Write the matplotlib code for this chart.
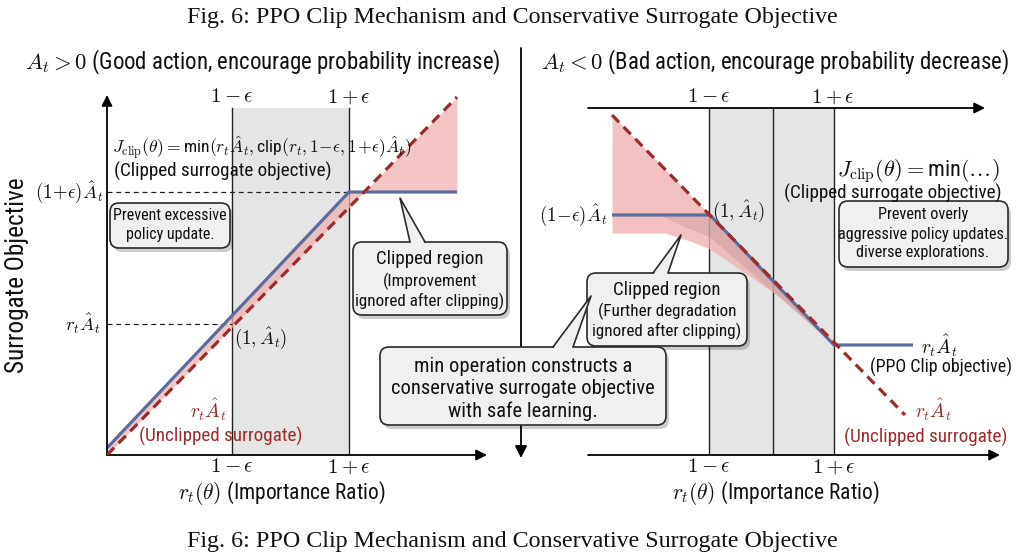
import numpy as np
import matplotlib.pyplot as plt
from matplotlib.patches import FancyBboxPatch, Polygon

plt.rcParams['mathtext.fontset'] = 'cm'
plt.rcParams['font.family'] = ['Roboto Condensed', 'Liberation Sans Narrow', 'Roboto', 'DejaVu Sans']

# ---------------- data (schematic units: r ratio / surrogate objective) ----------------
# left panel: A_t > 0
eps_L = [1.25, 2.42]                      # 1-eps, 1+eps
band_top_L = 3.47
r_unclip_L = [0.0, 3.5]
j_unclip_L = [0.0, 3.58]
r_clip_L = [0.0, 2.42, 3.5]
j_clip_L = [0.07, 2.63, 2.63]
ref_levels_L = [2.63, 1.31]               # (1+eps)A, r_t A
ref_ends_L = [2.42, 1.25]

# right panel: A_t < 0
eps_R = [1.21, 1.85, 2.46]
band_top_R = 3.47
r_unclip_R = [0.24, 3.17]
j_unclip_R = [3.40, 0.40]
r_clip_R = [0.24, 1.22, 2.46, 3.25]
j_clip_R = [2.40, 2.40, 1.10, 1.10]
r_shade_R = [0.24, 0.77, 1.02, 1.22, 1.92, 2.46]
j_shade_R = [2.22, 2.22, 2.14, 2.06, 1.58, 1.10]
r_dark_R = [0.75, 1.0, 1.22, 2.46]
j_dark_R = [2.38, 2.27, 2.18, 1.10]

RED = '#9e2b2b'
BLUE = '#5a6d9c'
PINK = '#f0b2b2'
GRAY = '#e5e5e5'

fig = plt.figure(figsize=(10.24, 5.59), dpi=100)
W, H = 1024, 559


def panel(x0, y0, w, h):
    # pixel box (left, bottom-from-top) -> axes, 1 data unit = 100 px
    ax = fig.add_axes([x0 / W, (H - y0) / H, w / W, h / H])
    ax.set_xlim(0, w / 100)
    ax.set_ylim(0, h / 100)
    ax.axis('off')
    return ax


def arrow(ax, p0, p1, lw=1.3):
    ax.annotate('', xy=p1, xytext=p0, annotation_clip=False,
                arrowprops=dict(arrowstyle='-|>', color='black', lw=lw,
                                mutation_scale=16, shrinkA=0, shrinkB=0))


# ---------------- left panel ----------------
axL = panel(107, 455, 390, 362)
axL.fill_between(eps_L, 0, band_top_L, color=GRAY, lw=0, zorder=0)
for x in eps_L:
    axL.plot([x, x], [0, band_top_L], color='#222222', lw=1.0, zorder=1)
xs = np.linspace(r_unclip_L[0], r_unclip_L[-1], 400)
axL.fill_between(xs, np.interp(xs, r_unclip_L, j_unclip_L), np.interp(xs, r_clip_L, j_clip_L),
                 color=PINK, alpha=0.75, lw=0, zorder=2)
for lev, end in zip(ref_levels_L, ref_ends_L):
    axL.plot([0, end], [lev, lev], color='#222222', lw=0.9, ls=(0, (4, 3)), zorder=2)
axL.plot(r_clip_L, j_clip_L, color=BLUE, lw=2.3, zorder=3, solid_capstyle='butt')
axL.plot(r_unclip_L, j_unclip_L, color=RED, lw=2.3, ls=(0, (3.2, 2)), zorder=4)
arrow(axL, (0, 0), (3.80, 0))
arrow(axL, (0, 0), (0, 3.60))

# ---------------- right panel ----------------
axR = panel(588, 455, 425, 350)
axR.fill_between([eps_R[0], eps_R[-1]], 0, band_top_R, color=GRAY, lw=0, zorder=0)
for x in eps_R:
    axR.plot([x, x], [0, band_top_R], color='#222222', lw=1.0, zorder=1)
up = np.maximum(np.interp(r_shade_R, r_unclip_R, j_unclip_R), np.interp(r_shade_R, r_clip_R, j_clip_R))
axR.fill_between(r_shade_R, j_shade_R, up, color=PINK, alpha=0.8, lw=0, zorder=2)
axR.fill_between(r_dark_R, j_dark_R, np.interp(r_dark_R, r_clip_R, j_clip_R),
                 color='#a07a7a', alpha=0.25, lw=0, zorder=2)
axR.plot(r_clip_R, j_clip_R, color=BLUE, lw=2.3, zorder=3, solid_capstyle='butt')
axR.plot(r_unclip_R, j_unclip_R, color=RED, lw=2.3, ls=(0, (3.2, 2)), zorder=4)
arrow(axR, (0, band_top_R), (3.97, band_top_R))
arrow(axR, (0, 0), (4.12, 0))

# ---------------- overlay for text / callouts (pixel coords) ----------------
ov = fig.add_axes([0, 0, 1, 1], zorder=10)
ov.set_xlim(0, W)
ov.set_ylim(H, 0)
ov.axis('off')
ov.patch.set_alpha(0)


def t(x, y, s, size=13, ha='center', color='#111111', **kw):
    ov.text(x, y, s, fontsize=size, ha=ha, va='center', color=color, zorder=20, **kw)


def callout(x0, y0, x1, y1, tail=None):
    w, h = x1 - x0, y1 - y0
    style = 'round,pad=0,rounding_size=9'
    ov.add_patch(FancyBboxPatch((x0 + 3, y0 + 4), w, h, boxstyle=style,
                                fc='black', ec='none', alpha=0.2, zorder=11))
    ov.add_patch(FancyBboxPatch((x0, y0), w, h, boxstyle=style,
                                fc='#f0f0f0', ec='#2a2a2a', lw=1.2, zorder=12))
    if tail:
        bx0, bx1, tip = tail
        ov.add_patch(Polygon([(bx0, y0 + 2), tip, (bx1, y0 + 2)], closed=True,
                             fc='#f0f0f0', ec='none', zorder=13))
        ov.plot([bx0, tip[0], bx1], [y0, tip[1], y0], color='#2a2a2a', lw=1.2, zorder=13)


# divider with down arrow
ov.annotate('', xy=(521, 458), xytext=(521, 48),
            arrowprops=dict(arrowstyle='-|>', color='black', lw=1.3, mutation_scale=18,
                            shrinkA=0, shrinkB=0), zorder=5)

serif = ['Liberation Serif', 'DejaVu Serif']
t(512, 18, 'Fig. 6: PPO Clip Mechanism and Conservative Surrogate Objective', 17.3, family=serif)
t(512, 541, 'Fig. 6: PPO Clip Mechanism and Conservative Surrogate Objective', 17.3, family=serif)

# titles
t(263, 62, r'$A_t > 0$ (Good action, encourage probability increase)', 16.4)
t(775, 62, r'$A_t < 0$ (Bad action, encourage probability decrease)', 16.4)

# left panel labels
t(17, 275, 'Surrogate Objective', 18.2, rotation=90)
t(232, 97, r'$1-\epsilon$', 15)
t(349, 97, r'$1+\epsilon$', 15)
t(232, 467, r'$1-\epsilon$', 15)
t(349, 467, r'$1+\epsilon$', 15)
t(103, 192, r'$(1\!+\!\epsilon)\hat{A}_t$', 13.5, ha='right')
t(101, 324, r'$r_t\hat{A}_t$', 13.5, ha='right')
t(112, 148, r'$J_{\rm clip}(\theta) = $min$(r_t\hat{A}_t,$clip$(r_t, 1\!-\!\epsilon, 1\!+\!\epsilon)\hat{A}_t)$',
  12.6, ha='left')
t(114, 171, '(Clipped surrogate objective)', 13.8, ha='left')
t(234, 338, r'$(1, \hat{A}_t)$', 13.5, ha='left')
t(208, 410, r'$r_t\hat{A}_t$', 14, color=RED)
t(221, 436, '(Unclipped surrogate)', 13.8, color=RED)
t(282, 493, r'$r_t(\theta)$ (Importance Ratio)', 15.5)

callout(110, 203, 230, 248)
t(170, 216, 'Prevent excessive', 11.5)
t(170, 235, 'policy update.', 11.5)

callout(353, 242, 507, 315, tail=(410, 425, (400, 198)))
t(430, 259, 'Clipped region', 13.6)
t(430, 281, '(Improvement', 12.3)
t(430, 301, 'ignored after clipping)', 12.3)

# right panel labels
t(709, 97, r'$1-\epsilon$', 15)
t(833, 97, r'$1+\epsilon$', 15)
t(709, 467, r'$1-\epsilon$', 15)
t(834, 467, r'$1+\epsilon$', 15)
t(607, 215, r'$(1\!-\!\epsilon)\hat{A}_t$', 13.5, ha='right')
t(712, 211, r'$(1, \hat{A}_t)$', 13.5, ha='left')
t(1000, 171, r'$J_{\rm clip}(\theta) = $min$(\ldots)$', 16, ha='right')
t(1002, 193, '(Clipped surrogate objective)', 13.8, ha='right')
t(939, 346, r'$r_t\hat{A}_t$', 14)
t(941, 367, '(PPO Clip objective)', 13)
t(933, 410, r'$r_t\hat{A}_t$', 14, color=RED)
t(926, 437, '(Unclipped surrogate)', 13.8, color=RED)
t(776, 493, r'$r_t(\theta)$ (Importance Ratio)', 15.5)

callout(839, 201, 1008, 267)
t(923, 215, 'Prevent overly', 11.7)
t(923, 235, 'aggressive policy updates.', 11.7)
t(923, 253, 'diverse explorations.', 11.7)

callout(587, 273, 747, 346, tail=(653, 668, (681, 235)))
t(667, 290, 'Clipped region', 13.6)
t(667, 311, '(Further degradation', 12.3)
t(667, 331, 'ignored after clipping)', 12.3)

callout(380, 347, 666, 425, tail=(553, 573, (591, 296)))
t(523, 366, 'min operation constructs a', 14.8)
t(523, 389, 'conservative surrogate objective', 14.8)
t(523, 411, 'with safe learning.', 14.8)

fig.savefig('out.png', dpi=100)
